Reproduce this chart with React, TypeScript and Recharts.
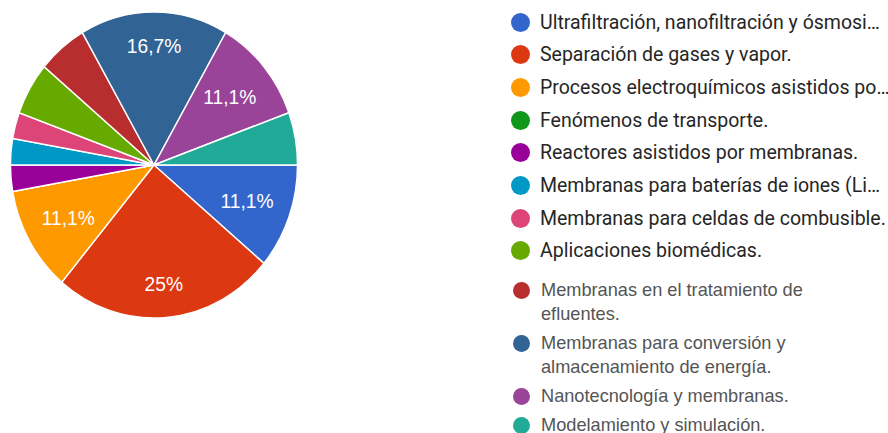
import { Cell, Pie, PieChart } from "recharts";

const categories = [
  "Ultrafiltración, nanofiltración y ósmosi…",
  "Separación de gases y vapor.",
  "Procesos electroquímicos asistidos po…",
  "Fenómenos de transporte.",
  "Reactores asistidos por membranas.",
  "Membranas para baterías de iones (Li…",
  "Membranas para celdas de combusible.",
  "Aplicaciones biomédicas.",
  "Membranas en el tratamiento de efluentes.",
  "Membranas para conversión y almacenamiento de energía.",
  "Nanotecnología y membranas.",
  "Modelamiento y simulación.",
];

const responses = [4, 9, 4, 0, 1, 1, 1, 2, 2, 6, 4, 2];

const colors = [
  "#3366cc",
  "#dc3912",
  "#ff9900",
  "#109618",
  "#990099",
  "#0099c6",
  "#dd4477",
  "#66aa00",
  "#b82e2e",
  "#316395",
  "#994499",
  "#22aa99",
];

const data = categories.map((name, i) => ({ name, value: responses[i] }));

const RAD = Math.PI / 180;

function fmt(p: number) {
  const v = Math.round(p * 1000) / 10;
  return `${String(v).replace(".", ",")}%`;
}

function SliceLabel(props: any) {
  const { cx, cy, midAngle, outerRadius, percent } = props;
  if (percent < 0.1) return null;
  const r = outerRadius * (percent > 0.15 ? 0.78 : 0.69);
  const x = cx + r * Math.cos(-midAngle * RAD);
  const y = cy + r * Math.sin(-midAngle * RAD);
  return (
    <text
      x={x}
      y={y}
      fill="#fff"
      fontSize={20.5}
      fontFamily="Liberation Sans, Arial, sans-serif"
      textAnchor="middle"
      dominantBaseline="central"
    >
      {fmt(percent)}
    </text>
  );
}

const upperCount = 8;

export default function App() {
  return (
    <div
      style={{
        position: "absolute",
        left: 0,
        top: 0,
        width: 888,
        height: 433,
        background: "#fff",
        overflow: "hidden",
      }}
    >
      <div
        style={{
          position: "absolute",
          left: 0,
          top: 0,
          transform: "scaleX(0.938)",
          transformOrigin: "154px 0",
        }}
      >
        <PieChart width={320} height={330} margin={{ top: 0, right: 0, bottom: 0, left: 0 }}>
          <Pie
            data={data}
            dataKey="value"
            cx={154}
            cy={165}
            outerRadius={153}
            startAngle={0}
            endAngle={-360}
            stroke="#fff"
            strokeWidth={1.5}
            labelLine={false}
            label={SliceLabel}
            isAnimationActive={false}
          >
            {data.map((d, i) => (
              <Cell key={d.name} fill={colors[i]} />
            ))}
          </Pie>
        </PieChart>
      </div>

      {categories.slice(0, upperCount).map((name, i) => (
        <div
          key={name}
          style={{
            position: "absolute",
            left: 511,
            top: 22 + i * 32.7 - 12,
            height: 24,
            display: "flex",
            alignItems: "center",
            fontFamily: "Roboto, sans-serif",
            fontSize: 19.5,
            color: "#262626",
            whiteSpace: "nowrap",
          }}
        >
          <span
            style={{
              width: 19,
              height: 19,
              borderRadius: "50%",
              background: colors[i],
              marginRight: 10,
              flex: "none",
            }}
          />
          {name}
        </div>
      ))}

      <div
        style={{
          position: "absolute",
          left: 513,
          top: 278,
          width: 320,
          fontFamily: "Liberation Sans, Arial, sans-serif",
          fontSize: 18.2,
          lineHeight: "24px",
          color: "#555",
        }}
      >
        {categories.slice(upperCount).map((name, j) => {
          const i = j + upperCount;
          return (
            <div key={name} style={{ display: "flex", marginBottom: 5 }}>
              <span
                style={{
                  width: 17,
                  height: 17,
                  borderRadius: "50%",
                  background: colors[i],
                  marginTop: 4,
                  marginRight: 11,
                  flex: "none",
                }}
              />
              <span style={{ width: 290 }}>{name}</span>
            </div>
          );
        })}
      </div>
    </div>
  );
}
